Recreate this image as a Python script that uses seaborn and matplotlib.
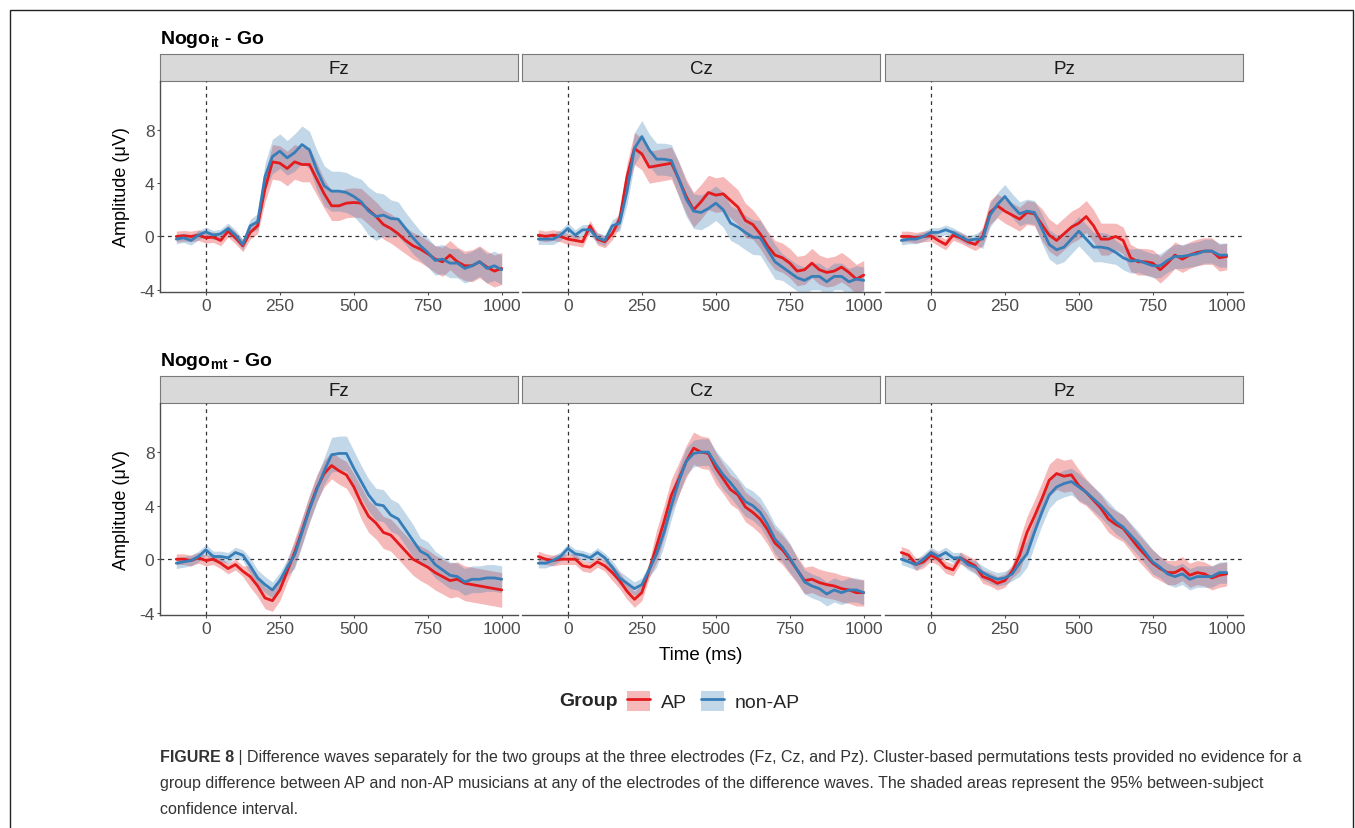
import matplotlib
matplotlib.use('Agg')
import matplotlib.pyplot as plt
from matplotlib.lines import Line2D
from matplotlib.patches import Patch
import seaborn as sns
import numpy as np
import pandas as pd

W, H = 1355, 829

# ---- data (ms, microvolts) ----
time_ms = [-100, -75, -50, -25, 0, 25, 50, 75, 100, 125, 150, 175, 200, 225, 250,
           275, 300, 325, 350, 375, 400, 425, 450, 475, 500, 525, 550, 575, 600,
           625, 650, 675, 700, 725, 750, 775, 800, 825, 850, 875, 900, 925, 950,
           975, 1000]
electrodes = ['Fz', 'Cz', 'Pz']
conditions = ['it', 'mt']
groups = ['AP', 'non-AP']

# Nogo_it - Go
it_fz_ap = [0.0, 0.05, 0.0, 0.1, -0.1, -0.05, -0.3, 0.4, -0.1, -0.7, 0.3, 0.8, 3.6, 5.6, 5.5,
            5.1, 5.6, 5.4, 5.4, 4.3, 3.2, 2.3, 2.3, 2.5, 2.55, 2.5, 2.0, 1.5, 0.9,
            0.6, 0.2, -0.3, -0.7, -0.95, -1.3, -1.7, -1.9, -1.4, -1.9, -2.2, -2.2, -1.9, -2.3,
            -2.6, -2.4]
it_fz_nonap = [-0.2, -0.1, -0.3, 0.1, 0.35, 0.1, 0.2, 0.6, 0.1, -0.6, 0.8, 1.1, 4.5, 6.0, 6.4,
               5.9, 6.3, 6.9, 6.5, 5.0, 3.8, 3.4, 3.4, 3.3, 3.0, 2.6, 1.9, 1.5, 1.6,
               1.35, 1.3, 0.6, -0.1, -0.7, -1.2, -1.8, -1.7, -2.0, -2.0, -2.4, -2.2, -1.9, -2.4,
               -2.2, -2.5]
it_cz_ap = [0.1, 0.0, 0.1, 0.0, -0.2, -0.3, -0.4, 0.8, -0.2, -0.4, 0.2, 1.3, 4.5, 6.6, 6.2,
            5.2, 5.3, 5.4, 5.5, 4.3, 3.0, 2.0, 2.6, 3.3, 3.1, 3.2, 2.7, 2.2, 1.2,
            0.9, 0.2, -0.7, -1.4, -1.6, -2.0, -2.6, -2.5, -2.0, -2.5, -2.7, -2.6, -2.3, -2.7,
            -3.2, -2.9]
it_cz_nonap = [-0.2, -0.2, -0.2, 0.1, 0.6, 0.1, 0.5, 0.5, -0.1, -0.3, 0.8, 1.0, 3.4, 6.6, 7.5,
               6.5, 5.8, 5.8, 5.7, 4.3, 2.8, 1.9, 1.8, 2.1, 2.5, 2.0, 1.0, 0.7, 0.3,
               -0.05, -0.1, -1.0, -1.9, -2.3, -2.7, -3.1, -3.3, -3.0, -3.0, -3.4, -3.0, -3.0, -3.4,
               -3.2, -3.3]
it_pz_ap = [0.0, 0.0, -0.1, 0.0, 0.05, -0.3, -0.6, 0.1, -0.1, -0.4, -0.6, 0.0, 1.8, 2.3, 1.9,
            1.6, 1.3, 1.8, 1.7, 0.9, 0.1, -0.3, 0.2, 0.7, 1.0, 1.5, 0.8, -0.2, -0.2,
            0.0, -0.3, -1.6, -1.9, -1.9, -2.0, -2.5, -2.0, -1.4, -1.7, -1.4, -1.2, -1.1, -1.1,
            -1.6, -1.5]
it_pz_nonap = [-0.3, -0.2, -0.2, 0.0, 0.3, 0.3, 0.5, 0.3, 0.0, -0.3, -0.2, -0.2, 1.6, 2.4, 3.0,
               2.3, 1.7, 1.9, 1.8, 0.6, -0.6, -1.0, -0.8, -0.2, 0.4, -0.2, -0.8, -0.8, -0.9,
               -1.2, -1.6, -1.85, -1.8, -2.0, -2.2, -2.2, -1.8, -1.5, -1.5, -1.4, -1.3, -1.1, -1.1,
               -1.4, -1.4]

# Nogo_mt - Go
mt_fz_ap = [0.0, 0.0, -0.1, 0.1, -0.1, 0.0, -0.3, -0.7, -0.4, -0.9, -1.3, -2.0, -2.9, -3.1, -2.3,
            -0.9, 0.5, 2.1, 3.8, 5.3, 6.4, 7.0, 6.6, 6.3, 5.4, 4.2, 3.2, 2.7, 2.0,
            1.8, 1.2, 0.6, 0.0, -0.3, -0.6, -1.0, -1.3, -1.6, -1.5, -1.8, -1.9, -2.0, -2.1,
            -2.2, -2.3]
mt_fz_nonap = [-0.3, -0.2, -0.1, 0.2, 0.7, 0.2, 0.2, 0.1, 0.5, 0.3, -0.5, -1.4, -1.9, -2.3, -1.6,
               -0.6, 0.3, 2.0, 3.7, 5.2, 6.6, 7.8, 7.9, 7.9, 6.8, 5.8, 4.8, 4.1, 4.0,
               3.3, 3.0, 2.2, 1.4, 0.6, 0.3, -0.4, -0.8, -1.2, -1.3, -1.7, -1.5, -1.5, -1.4,
               -1.4, -1.5]
mt_cz_ap = [0.2, 0.0, -0.1, 0.0, 0.0, 0.0, -0.5, -0.6, -0.2, -0.5, -1.0, -1.6, -2.4, -3.0, -2.5,
            -0.8, 1.0, 2.8, 4.8, 6.0, 7.3, 8.3, 8.0, 7.9, 6.8, 6.0, 5.2, 4.8, 3.9,
            3.5, 3.0, 2.2, 1.2, 0.7, 0.0, -0.8, -1.6, -1.5, -1.75, -1.9, -2.0, -2.2, -2.3,
            -2.5, -2.5]
mt_cz_nonap = [-0.3, -0.3, -0.1, 0.2, 0.8, 0.4, 0.3, 0.1, 0.5, 0.1, -0.6, -1.4, -1.8, -2.2, -1.9,
               -0.8, 0.4, 2.0, 4.0, 5.8, 7.3, 7.9, 8.0, 8.0, 7.1, 6.3, 5.7, 5.0, 4.3,
               4.0, 3.5, 2.6, 1.5, 0.9, 0.1, -0.8, -1.7, -2.0, -2.2, -2.6, -2.3, -2.5, -2.3,
               -2.3, -2.5]
mt_pz_ap = [0.5, 0.3, -0.4, -0.2, 0.3, 0.0, -0.6, -0.8, 0.1, -0.2, -0.5, -1.3, -1.5, -1.8, -1.6,
            -0.9, 0.3, 2.0, 3.2, 4.5, 5.9, 6.4, 6.2, 6.3, 5.5, 5.0, 4.4, 3.8, 3.0,
            2.6, 2.3, 1.6, 0.9, 0.3, -0.3, -0.7, -1.0, -1.0, -0.7, -1.2, -1.0, -1.1, -1.4,
            -1.2, -1.1]
mt_pz_nonap = [0.0, -0.2, -0.4, 0.0, 0.5, 0.2, 0.5, 0.1, 0.1, -0.4, -0.6, -1.0, -1.3, -1.5, -1.4,
               -1.1, -0.3, 0.4, 2.0, 3.5, 4.8, 5.4, 5.65, 5.8, 5.4, 5.0, 4.5, 4.0, 3.4,
               2.8, 2.4, 1.8, 1.2, 0.5, -0.2, -0.6, -1.1, -1.3, -1.1, -1.5, -1.3, -1.3, -1.3,
               -1.0, -1.0]

# half-width of the 95% CI ribbons
ci_it_fz_ap = [0.4, 0.4, 0.4, 0.4, 0.4, 0.4, 0.4, 0.45, 0.45, 0.45, 0.5, 0.6, 1.0, 1.3, 1.3,
               1.3, 1.3, 1.3, 1.3, 1.2, 1.1, 1.1, 1.1, 1.1, 1.1, 1.1, 1.1, 1.1, 1.1,
               1.1, 1.1, 1.0, 1.0, 1.0, 1.0, 1.0, 1.1, 1.1, 1.1, 1.1, 1.2, 1.2, 1.2, 1.2, 1.2]
ci_it_fz_nonap = [0.35, 0.35, 0.35, 0.35, 0.35, 0.35, 0.35, 0.4, 0.4, 0.4, 0.5, 0.6, 1.0, 1.3, 1.3,
                  1.3, 1.4, 1.4, 1.4, 1.5, 1.5, 1.5, 1.5, 1.5, 1.5, 1.7, 1.8, 1.8, 1.6,
                  1.4, 1.3, 1.2, 1.2, 1.1, 1.1, 1.1, 1.1, 1.1, 1.1, 1.1, 1.1, 1.1, 1.1, 1.1, 1.1]
ci_it_cz_ap = [0.4, 0.4, 0.4, 0.4, 0.4, 0.4, 0.4, 0.4, 0.45, 0.45, 0.45, 0.6, 1.0, 1.2, 1.2,
               1.2, 1.2, 1.2, 1.2, 1.3, 1.3, 1.3, 1.3, 1.3, 1.3, 1.3, 1.3, 1.3, 1.3,
               1.1, 1.1, 1.1, 1.1, 1.1, 1.1, 1.1, 1.1, 1.1, 1.1, 1.1, 1.1, 1.1, 1.1, 1.1, 1.1]
ci_it_cz_nonap = [0.4, 0.4, 0.4, 0.4, 0.4, 0.4, 0.4, 0.4, 0.4, 0.4, 0.45, 0.6, 1.0, 1.2, 1.2,
                  1.2, 1.2, 1.2, 1.2, 1.3, 1.3, 1.3, 1.3, 1.3, 1.3, 1.3, 1.3, 1.3, 1.3,
                  1.3, 1.3, 1.3, 1.3, 1.0, 1.0, 1.0, 1.0, 1.0, 1.0, 1.0, 1.0, 1.0, 1.0, 1.0, 1.0]
ci_it_pz_ap = [0.4, 0.4, 0.4, 0.4, 0.4, 0.4, 0.4, 0.4, 0.4, 0.4, 0.45, 0.7, 0.9, 0.9, 0.9,
               0.9, 0.9, 0.9, 0.9, 1.2, 1.2, 1.2, 1.2, 1.2, 1.2, 1.2, 1.2, 1.2, 1.2,
               1.0, 1.0, 1.0, 1.0, 1.0, 1.0, 1.0, 1.0, 1.0, 1.0, 1.0, 1.0, 1.0, 1.0, 1.0, 1.0]
ci_it_pz_nonap = [0.35, 0.35, 0.35, 0.35, 0.35, 0.35, 0.35, 0.35, 0.35, 0.35, 0.4, 0.7, 0.9, 0.9, 0.9,
                  0.9, 0.9, 0.9, 0.9, 1.1, 1.1, 1.1, 1.1, 1.1, 1.1, 1.1, 1.1, 1.1, 1.1,
                  0.9, 0.9, 0.9, 0.9, 0.9, 0.9, 0.9, 0.9, 0.9, 0.9, 0.9, 0.9, 0.9, 0.9, 0.9, 0.9]
ci_mt_fz_ap = [0.4, 0.4, 0.4, 0.4, 0.4, 0.4, 0.4, 0.4, 0.4, 0.4, 0.8, 0.8, 0.8, 0.8, 0.8,
               0.8, 1.0, 1.0, 1.0, 1.0, 1.0, 1.0, 1.0, 1.0, 1.0, 1.2, 1.2, 1.2, 1.2,
               1.2, 1.2, 1.2, 1.2, 1.3, 1.3, 1.3, 1.3, 1.3, 1.3, 1.3, 1.3, 1.3, 1.3, 1.3, 1.3]
ci_mt_fz_nonap = [0.4, 0.4, 0.4, 0.4, 0.4, 0.4, 0.4, 0.4, 0.4, 0.4, 0.6, 0.6, 0.6, 0.6, 0.6,
                  0.6, 1.0, 1.0, 1.0, 1.0, 1.0, 1.3, 1.3, 1.3, 1.3, 1.2, 1.2, 1.2, 1.2,
                  1.2, 1.2, 1.2, 1.2, 1.0, 1.0, 1.0, 1.0, 1.0, 1.0, 1.0, 1.0, 1.0, 1.0, 1.0, 1.0]
ci_mt_cz_ap = [0.4, 0.4, 0.4, 0.4, 0.4, 0.4, 0.4, 0.4, 0.4, 0.4, 0.6, 0.6, 0.6, 0.6, 0.6,
               0.6, 1.2, 1.2, 1.2, 1.2, 1.2, 1.2, 1.2, 1.2, 1.2, 1.1, 1.1, 1.1, 1.1,
               1.1, 1.1, 1.1, 1.1, 1.1, 1.1, 1.0, 1.0, 1.0, 1.0, 1.0, 1.0, 1.0, 1.0, 1.0, 1.0]
ci_mt_cz_nonap = [0.35, 0.35, 0.35, 0.35, 0.35, 0.35, 0.35, 0.35, 0.35, 0.35, 0.5, 0.5, 0.5, 0.5, 0.5,
                  0.5, 1.0, 1.0, 1.0, 1.0, 1.0, 1.0, 1.0, 1.0, 1.0, 1.1, 1.1, 1.1, 1.1,
                  1.1, 1.1, 1.1, 1.1, 1.1, 1.1, 0.9, 0.9, 0.9, 0.9, 0.9, 0.9, 0.9, 0.9, 0.9, 0.9]
ci_mt_pz_ap = [0.45, 0.45, 0.45, 0.45, 0.45, 0.45, 0.45, 0.45, 0.45, 0.45, 0.5, 0.5, 0.5, 0.5, 0.5,
               0.5, 1.2, 1.2, 1.2, 1.2, 1.2, 1.2, 1.2, 1.2, 1.2, 1.0, 1.0, 1.0, 1.0,
               1.0, 1.0, 1.0, 1.0, 1.0, 1.0, 0.9, 0.9, 0.9, 0.9, 0.9, 0.9, 0.9, 0.9, 0.9, 0.9]
ci_mt_pz_nonap = [0.4, 0.4, 0.4, 0.4, 0.4, 0.4, 0.4, 0.4, 0.4, 0.4, 0.5, 0.5, 0.5, 0.5, 0.5,
                  0.5, 1.0, 1.0, 1.0, 1.0, 1.0, 1.0, 1.0, 1.0, 1.0, 0.9, 0.9, 0.9, 0.9,
                  0.9, 0.9, 0.9, 0.9, 0.9, 0.9, 0.8, 0.8, 0.8, 0.8, 0.8, 0.8, 0.8, 0.8, 0.8, 0.8]

series = {
    ('it', 'Fz'): (it_fz_ap, ci_it_fz_ap, it_fz_nonap, ci_it_fz_nonap),
    ('it', 'Cz'): (it_cz_ap, ci_it_cz_ap, it_cz_nonap, ci_it_cz_nonap),
    ('it', 'Pz'): (it_pz_ap, ci_it_pz_ap, it_pz_nonap, ci_it_pz_nonap),
    ('mt', 'Fz'): (mt_fz_ap, ci_mt_fz_ap, mt_fz_nonap, ci_mt_fz_nonap),
    ('mt', 'Cz'): (mt_cz_ap, ci_mt_cz_ap, mt_cz_nonap, ci_mt_cz_nonap),
    ('mt', 'Pz'): (mt_pz_ap, ci_mt_pz_ap, mt_pz_nonap, ci_mt_pz_nonap),
}

rows = []
for (cond, el), (ap, ci_ap, nap, ci_nap) in series.items():
    for grp, m, c in (('AP', ap, ci_ap), ('non-AP', nap, ci_nap)):
        assert len(m) == len(time_ms) and len(c) == len(time_ms), (cond, el, grp)
        for t, v, w in zip(time_ms, m, c):
            rows.append((cond, el, grp, t, v, v - w, v + w))
df = pd.DataFrame(rows, columns=['cond', 'electrode', 'group', 'time', 'amp', 'lo', 'hi'])

# ---- style ----
sns.set_theme(style='white')
plt.rcParams['font.family'] = ['Liberation Sans', 'DejaVu Sans']
plt.rcParams['mathtext.fontset'] = 'custom'
plt.rcParams['mathtext.rm'] = 'Liberation Sans'
plt.rcParams['mathtext.bf'] = 'Liberation Sans:bold'
plt.rcParams['axes.unicode_minus'] = False

colors = {'AP': '#E41A1C', 'non-AP': '#377EB8'}
axis_col = '#4D4D4D'


def rect(x0, y0, x1, y1):
    return [x0 / W, 1 - y1 / H, (x1 - x0) / W, (y1 - y0) / H]


fig = plt.figure(figsize=(W / 100, H / 100), dpi=100)

col_x = [(160, 518), (522, 880), (885, 1243)]
row_y = [(82, 293), (404, 616)]
strip_y = [(55, 82), (377, 404)]
titles_y = [43.5, 366]
cond_titles = [r'$\mathbf{Nogo}_{\mathbf{it}}$ - Go', r'$\mathbf{Nogo}_{\mathbf{mt}}$ - Go']

for r, cond in enumerate(conditions):
    fig.text(160 / W, 1 - titles_y[r] / H, cond_titles[r], fontsize=14, fontweight='bold',
             ha='left', va='baseline', color='black')
    for c, el in enumerate(electrodes):
        x0, x1 = col_x[c]
        # strip
        sax = fig.add_axes(rect(x0, strip_y[r][0], x1, strip_y[r][1]))
        sax.set_facecolor('#D9D9D9')
        sax.set_xticks([])
        sax.set_yticks([])
        for s in sax.spines.values():
            s.set_color('#7A7A7A')
            s.set_linewidth(0.8)
        sax.text(0.5, 0.45, el, ha='center', va='center', fontsize=13.5,
                 color='#1A1A1A', transform=sax.transAxes)

        ax = fig.add_axes(rect(x0, row_y[r][0], x1, row_y[r][1]))
        sub = df[(df.cond == cond) & (df.electrode == el)]
        for grp in groups:
            g = sub[sub.group == grp]
            ax.fill_between(g.time, g.lo, g.hi, color=colors[grp], alpha=0.3, lw=0)
        sns.lineplot(data=sub, x='time', y='amp', hue='group', hue_order=groups,
                     palette=colors, ax=ax, legend=False, lw=2.0, errorbar=None)
        ax.axvline(0, color='#333333', lw=0.9, ls=(0, (3, 3)), zorder=0.5)
        ax.axhline(0, color='#333333', lw=0.9, ls=(0, (3, 3)), zorder=0.5)
        ax.set_xlim(-155, 1055)
        ax.set_ylim(-4.17, 11.67)
        ax.set_xticks([0, 250, 500, 750, 1000])
        ax.set_xticklabels(['0', '250', '500', '750', '1000'])
        ax.set_yticks([-4, 0, 4, 8])
        ax.set_xlabel('')
        ax.set_ylabel('')
        ax.set_facecolor('none')
        for s in ('top', 'right'):
            ax.spines[s].set_visible(False)
        ax.spines['bottom'].set_color(axis_col)
        ax.spines['bottom'].set_linewidth(1.0)
        ax.tick_params(axis='x', length=2, width=0.8, color=axis_col, pad=2,
                       labelsize=12.5, labelcolor=axis_col, bottom=True)
        if c == 0:
            ax.spines['left'].set_color(axis_col)
            ax.spines['left'].set_linewidth(1.0)
            ax.set_yticklabels(['-4', '0', '4', '8'])
            ax.tick_params(axis='y', length=2, width=0.8, color=axis_col, pad=2,
                           labelsize=12.5, labelcolor=axis_col, left=True)
        else:
            ax.spines['left'].set_visible(False)
            ax.tick_params(axis='y', left=False, labelleft=False)

    yc = (row_y[r][0] + row_y[r][1]) / 2
    fig.text(122 / W, 1 - yc / H, 'Amplitude (\u03bcV)', rotation=90, fontsize=13,
             ha='center', va='center', color='black')

fig.text(701 / W, 1 - 655 / H, 'Time (ms)', fontsize=13.5, ha='center', va='center', color='black')

# legend
fig.text(618 / W, 1 - 702 / H, 'Group', fontsize=14, fontweight='bold', ha='right', va='center')
handles = [(Patch(facecolor=colors[g], alpha=0.3, edgecolor='none'),
            Line2D([], [], color=colors[g], lw=2.0)) for g in groups]
fig.legend(handles=handles, labels=groups, loc='center left',
           bbox_to_anchor=(627 / W, 1 - 702 / H), ncol=2, frameon=False, fontsize=14,
           handlelength=1.2, handleheight=1.2, handletextpad=0.55, columnspacing=0.7,
           borderpad=0, borderaxespad=0)

# caption box
frame = fig.add_axes([0, 0, 1, 1], facecolor='none', zorder=-1)
frame.set_xlim(0, W)
frame.set_ylim(H, 0)
frame.axis('off')
frame.plot([9.5, 9.5, 1353, 1353], [H + 5, 10.5, 10.5, H + 5], color='#222222', lw=1.0,
           solid_joinstyle='miter')

cap_col = '#333333'
line1 = ' | Difference waves separately for the two groups at the three electrodes (Fz, Cz, and Pz). ' \
        'Cluster-based permutations tests provided no evidence for a'
line2 = 'group difference between AP and non-AP musicians at any of the electrodes of the ' \
        'difference waves. The shaded areas represent the 95% between-subject'
line3 = 'confidence interval.'

renderer = fig.canvas.get_renderer()
probe = fig.text(0, 0, line2, fontsize=11)
wpx = probe.get_window_extent(renderer).width
probe.remove()
cap_fs = 11 * (1262 - 160) / wpx

b = fig.text(160 / W, 1 - 758 / H, 'FIGURE 8', fontsize=cap_fs, fontweight='bold',
             color=cap_col, ha='left', va='center')
bw = b.get_window_extent(renderer).width
fig.text((160 + bw) / W, 1 - 758 / H, line1, fontsize=cap_fs, color=cap_col, ha='left', va='center')
fig.text(160 / W, 1 - 784 / H, line2, fontsize=cap_fs, color=cap_col, ha='left', va='center')
fig.text(160 / W, 1 - 810 / H, line3, fontsize=cap_fs, color=cap_col, ha='left', va='center')

fig.savefig('out.png', dpi=100)
